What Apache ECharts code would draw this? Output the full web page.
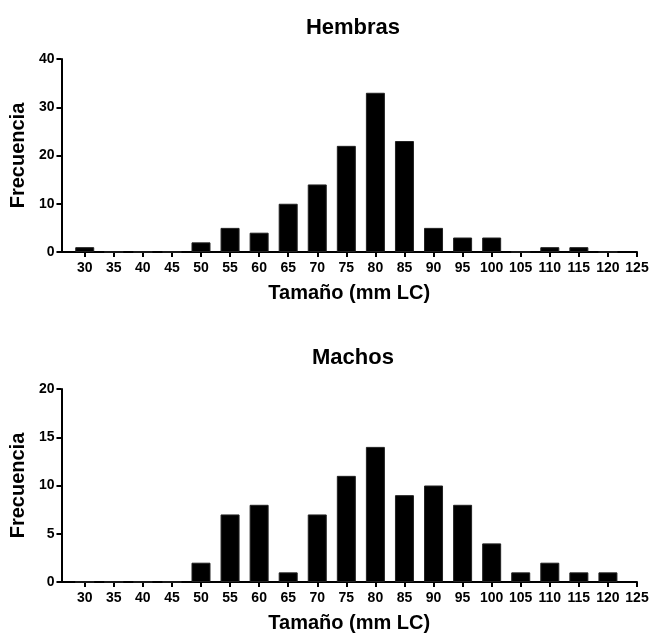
<!DOCTYPE html>
<html>
<head>
<meta charset="utf-8">
<script src="https://cdn.jsdelivr.net/npm/echarts@6/dist/echarts.min.js"></script>
<style>
  html, body { margin: 0; padding: 0; background: #fff; }
  #main { width: 653px; height: 634px; }
</style>
</head>
<body>
<div id="main"></div>
<script>
// clases de talla (mm LC)
var sizes = [30, 35, 40, 45, 50, 55, 60, 65, 70, 75, 80, 85, 90, 95, 100, 105, 110, 115, 120];
var hembras = [1, 0, 0, 0, 2, 5, 4, 10, 14, 22, 33, 23, 5, 3, 3, 0, 1, 1, 0];
var machos = [0, 0, 0, 0, 2, 7, 8, 1, 7, 11, 14, 9, 10, 8, 4, 1, 2, 1, 1];
var xTicks = [30, 35, 40, 45, 50, 55, 60, 65, 70, 75, 80, 85, 90, 95, 100, 105, 110, 115, 120, 125];
var titles = ['Hembras', 'Machos'];

var FONT = 'Arial, "Liberation Sans", sans-serif';

function pairs(vals) {
    var out = [];
    for (var i = 0; i < sizes.length; i++) {
        out.push([sizes[i], vals[i]]);
    }
    return out;
}

function xAxisFor(idx) {
    return {
        type: 'value',
        gridIndex: idx,
        min: 26,
        max: 125,
        name: 'Tamaño (mm LC)',
        nameLocation: 'middle',
        nameGap: 31,
        nameTextStyle: { fontFamily: FONT, fontWeight: 'bold', fontSize: 20, color: '#000' },
        axisLine: { lineStyle: { color: '#000', width: 2 } },
        axisTick: { show: true, length: 5, lineStyle: { color: '#000', width: 2 }, customValues: xTicks },
        axisLabel: { customValues: xTicks, margin: 9, fontFamily: FONT, fontWeight: 'bold', fontSize: 14, color: '#000' },
        splitLine: { show: false }
    };
}

function yAxisFor(idx, max, step) {
    return {
        type: 'value',
        gridIndex: idx,
        min: 0,
        max: max,
        interval: step,
        name: 'Frecuencia',
        nameLocation: 'middle',
        nameGap: 27,
        nameTextStyle: { fontFamily: FONT, fontWeight: 'bold', fontSize: 20, color: '#000' },
        axisLine: { show: true, lineStyle: { color: '#000', width: 2 } },
        axisTick: { show: true, length: 5, lineStyle: { color: '#000', width: 2 } },
        axisLabel: { margin: 7, fontFamily: FONT, fontWeight: 'bold', fontSize: 14, color: '#000' },
        splitLine: { show: false }
    };
}

var chart = echarts.init(document.getElementById('main'));

var option = {
    backgroundColor: '#fff',
    animation: false,
    title: [
        { text: titles[0], left: 348, top: 12, textAlign: 'center',
          textStyle: { fontFamily: FONT, fontWeight: 'bold', fontSize: 22, color: '#000' } },
        { text: titles[1], left: 348, top: 342, textAlign: 'center',
          textStyle: { fontFamily: FONT, fontWeight: 'bold', fontSize: 22, color: '#000' } }
    ],
    grid: [
        { left: 60, right: 16, top: 59, height: 193 },
        { left: 60, right: 16, top: 389, height: 193 }
    ],
    xAxis: [xAxisFor(0), xAxisFor(1)],
    yAxis: [yAxisFor(0, 40, 10), yAxisFor(1, 20, 5)],
    series: [
        {
            name: titles[0], type: 'bar', xAxisIndex: 0, yAxisIndex: 0,
            barWidth: 19,
            itemStyle: { color: '#000', borderColor: '#222', borderWidth: 1 },
            data: pairs(hembras)
        },
        {
            name: titles[1], type: 'bar', xAxisIndex: 1, yAxisIndex: 1,
            barWidth: 19,
            itemStyle: { color: '#000', borderColor: '#222', borderWidth: 1 },
            data: pairs(machos)
        }
    ]
};

chart.setOption(option);
</script>
</body>
</html>
